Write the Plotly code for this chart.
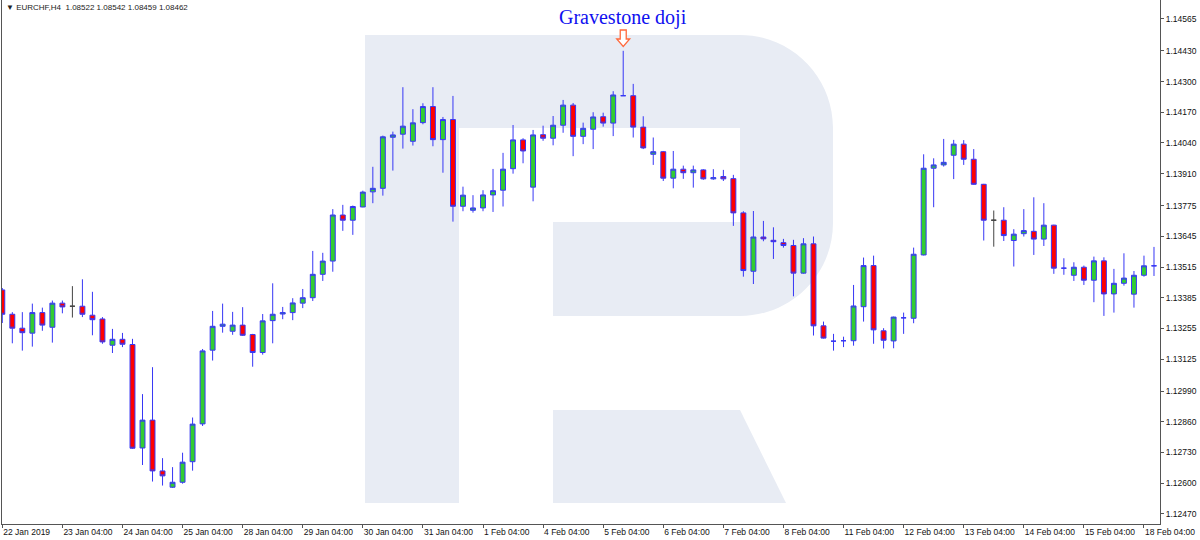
import plotly.graph_objects as go

# ---------------- data (EURCHF, H4) ----------------
bar_index = list(range(116))

open_ = [1.13418, 1.13315, 1.13256, 1.13235, 1.13322, 1.13260, 1.13362, 1.13349, 1.13349, 1.13311,
         1.13295, 1.13184, 1.13209, 1.13187, 1.12749, 1.12867, 1.12652, 1.12583, 1.12604, 1.12691,
         1.12851, 1.13163, 1.13264, 1.13243, 1.13269, 1.13229, 1.13153, 1.13288, 1.13316, 1.13322,
         1.13362, 1.13385, 1.13484, 1.13540, 1.13735, 1.13713, 1.13769, 1.13833, 1.13848, 1.14064,
         1.14077, 1.14047, 1.14126, 1.14194, 1.14054, 1.14139, 1.13772, 1.13755, 1.13765, 1.13820,
         1.13840, 1.13931, 1.14053, 1.13853, 1.14075, 1.14060, 1.14115, 1.14200, 1.14068, 1.14098,
         1.14151, 1.14124, 1.14240, 1.14240, 1.14107, 1.13992, 1.14003, 1.13891, 1.13929, 1.13914,
         1.13926, 1.13888, 1.13898, 1.13889, 1.13744, 1.13497, 1.13642, 1.13628, 1.13618, 1.13606,
         1.13489, 1.13613, 1.13266, 1.13201, 1.13203, 1.13203, 1.13347, 1.13521, 1.13245, 1.13202,
         1.13300, 1.13298, 1.13566, 1.13933, 1.13947, 1.13988, 1.14035, 1.13971, 1.13865, 1.13713,
         1.13713, 1.13627, 1.13656, 1.13666, 1.13633, 1.13692, 1.13510, 1.13480, 1.13514, 1.13459,
         1.13541, 1.13401, 1.13446, 1.13400, 1.13480, 1.13520]

high = [1.13426, 1.13324, 1.13324, 1.13360, 1.13343, 1.13373, 1.13373, 1.13434, 1.13463, 1.13410,
        1.13303, 1.13253, 1.13236, 1.13211, 1.12977, 1.13091, 1.12706, 1.12668, 1.12729, 1.12878,
        1.13168, 1.13329, 1.13360, 1.13325, 1.13345, 1.13232, 1.13316, 1.13446, 1.13346, 1.13383,
        1.13422, 1.13583, 1.13575, 1.13760, 1.13778, 1.13775, 1.13838, 1.13939, 1.14071, 1.14088,
        1.14276, 1.14183, 1.14208, 1.14276, 1.14150, 1.14239, 1.13855, 1.13819, 1.13840, 1.13930,
        1.13998, 1.14116, 1.14060, 1.14095, 1.14113, 1.14154, 1.14222, 1.14209, 1.14126, 1.14170,
        1.14168, 1.14259, 1.14430, 1.14290, 1.14153, 1.14063, 1.14006, 1.14006, 1.13944, 1.13944,
        1.13929, 1.13929, 1.13926, 1.13905, 1.13751, 1.13752, 1.13710, 1.13683, 1.13634, 1.13630,
        1.13637, 1.13644, 1.13284, 1.13232, 1.13220, 1.13439, 1.13555, 1.13563, 1.13256, 1.13305,
        1.13322, 1.13597, 1.13992, 1.13975, 1.14057, 1.14053, 1.14052, 1.14014, 1.13867, 1.13754,
        1.13768, 1.13675, 1.13760, 1.13810, 1.13785, 1.13694, 1.13552, 1.13535, 1.13521, 1.13559,
        1.13556, 1.13507, 1.13573, 1.13498, 1.13563, 1.13600]

low = [1.13278, 1.13192, 1.13161, 1.13178, 1.13245, 1.13195, 1.13319, 1.13301, 1.13303, 1.13226,
       1.13190, 1.13151, 1.13176, 1.12745, 1.12677, 1.12607, 1.12590, 1.12580, 1.12598, 1.12653,
       1.12842, 1.13119, 1.13237, 1.13228, 1.13223, 1.13093, 1.13144, 1.13192, 1.13294, 1.13290,
       1.13341, 1.13371, 1.13456, 1.13495, 1.13668, 1.13651, 1.13768, 1.13785, 1.13817, 1.13923,
       1.14016, 1.14029, 1.14119, 1.14026, 1.13914, 1.13707, 1.13751, 1.13745, 1.13751, 1.13748,
       1.13771, 1.13910, 1.13954, 1.13793, 1.14049, 1.14030, 1.14083, 1.13984, 1.14035, 1.14014,
       1.14109, 1.14069, 1.14240, 1.14063, 1.14014, 1.13947, 1.13879, 1.13848, 1.13888, 1.13851,
       1.13884, 1.13884, 1.13879, 1.13689, 1.13474, 1.13443, 1.13624, 1.13549, 1.13597, 1.13391,
       1.13487, 1.13225, 1.13212, 1.13161, 1.13176, 1.13182, 1.13284, 1.13190, 1.13170, 1.13171,
       1.13232, 1.13277, 1.13564, 1.13768, 1.13940, 1.13887, 1.13947, 1.13863, 1.13627, 1.13601,
       1.13625, 1.13517, 1.13644, 1.13566, 1.13604, 1.13486, 1.13482, 1.13456, 1.13439, 1.13366,
       1.13308, 1.13322, 1.13436, 1.13343, 1.13474, 1.13477]

close = [1.13315, 1.13256, 1.13237, 1.13322, 1.13269, 1.13362, 1.13346, 1.13349, 1.13315, 1.13292,
         1.13198, 1.13209, 1.13188, 1.12748, 1.12867, 1.12652, 1.12631, 1.12604, 1.12689, 1.12850,
         1.13160, 1.13264, 1.13273, 1.13269, 1.13226, 1.13153, 1.13287, 1.13315, 1.13322, 1.13363,
         1.13385, 1.13484, 1.13540, 1.13735, 1.13713, 1.13771, 1.13832, 1.13848, 1.14066, 1.14074,
         1.14111, 1.14125, 1.14194, 1.14054, 1.14139, 1.13772, 1.13819, 1.13765, 1.13820, 1.13838,
         1.13929, 1.14053, 1.14006, 1.14074, 1.14060, 1.14115, 1.14200, 1.14068, 1.14102, 1.14150,
         1.14124, 1.14243, 1.14240, 1.14107, 1.14019, 1.14003, 1.13891, 1.13929, 1.13914, 1.13926,
         1.13888, 1.13893, 1.13888, 1.13744, 1.13500, 1.13642, 1.13634, 1.13622, 1.13606, 1.13489,
         1.13613, 1.13266, 1.13214, 1.13201, 1.13203, 1.13350, 1.13521, 1.13249, 1.13205, 1.13303,
         1.13300, 1.13569, 1.13933, 1.13947, 1.13958, 1.14035, 1.13971, 1.13865, 1.13713, 1.13713,
         1.13648, 1.13654, 1.13669, 1.13633, 1.13692, 1.13510, 1.13510, 1.13514, 1.13459, 1.13541,
         1.13401, 1.13446, 1.13468, 1.13480, 1.13520, 1.13520]

gray_doji_bars = [7, 99]

price_ticks = [1.14565, 1.14430, 1.14300, 1.14170, 1.14040, 1.13910, 1.13775, 1.13645, 1.13515,
               1.13385, 1.13255, 1.13125, 1.12990, 1.12860, 1.12730, 1.12600, 1.12470]

time_tick_bars = [0, 6, 12, 18, 24, 30, 36, 42, 48, 54, 60, 66, 72, 78, 84, 90, 96, 102, 108, 114]
time_tick_labels = ["22 Jan 2019", "23 Jan 04:00", "24 Jan 04:00", "25 Jan 04:00", "28 Jan 04:00",
                    "29 Jan 04:00", "30 Jan 04:00", "31 Jan 04:00", "1 Feb 04:00", "4 Feb 04:00",
                    "5 Feb 04:00", "6 Feb 04:00", "7 Feb 04:00", "8 Feb 04:00", "11 Feb 04:00",
                    "12 Feb 04:00", "13 Feb 04:00", "14 Feb 04:00", "15 Feb 04:00", "18 Feb 04:00"]

header_text = "▼ EURCHF,H4  1.08522 1.08542 1.08459 1.08462"
pattern_label = "Gravestone doji"
pattern_bar = 62

# ---------------- styling ----------------
W, H = 1200, 540
M_L, M_R, M_T, M_B = 2, 40, 0, 16
PLOT_W = W - M_L - M_R
PLOT_H = H - M_T - M_B
WICK = "rgb(55,55,245)"
UP_FILL = "#32CD32"
DN_FILL = "#FF0000"
LOGO = "#E8ECF4"
AXIS = "#555555"
FONT = "Liberation Sans"


def px(xp, yp):
    """pixel position inside the figure -> paper coordinates"""
    return (xp - M_L) / PLOT_W, (H - M_B - yp) / PLOT_H


def path_from(points_cmds):
    out = []
    for cmd, pts in points_cmds:
        coords = []
        for (a, b) in pts:
            fx, fy = px(a, b)
            coords.append(f"{fx:.5f},{fy:.5f}")
        out.append(cmd + " " + " ".join(coords))
    return " ".join(out) + " Z"


main_idx = [i for i in bar_index if i not in gray_doji_bars]

fig = go.Figure()
fig.add_trace(go.Candlestick(
    x=[bar_index[i] for i in main_idx],
    open=[open_[i] for i in main_idx],
    high=[high[i] for i in main_idx],
    low=[low[i] for i in main_idx],
    close=[close[i] for i in main_idx],
    increasing=dict(fillcolor=UP_FILL, line=dict(color=WICK, width=1)),
    decreasing=dict(fillcolor=DN_FILL, line=dict(color=WICK, width=1)),
    whiskerwidth=0,
    hoverinfo="skip",
))
fig.add_trace(go.Candlestick(
    x=[bar_index[i] for i in gray_doji_bars],
    open=[open_[i] for i in gray_doji_bars],
    high=[high[i] for i in gray_doji_bars],
    low=[low[i] for i in gray_doji_bars],
    close=[close[i] for i in gray_doji_bars],
    increasing=dict(fillcolor="#444444", line=dict(color="#444444", width=1)),
    decreasing=dict(fillcolor="#444444", line=dict(color="#444444", width=1)),
    whiskerwidth=0,
    hoverinfo="skip",
))

# watermark "R" logo
k = 0.5523 * 93
r_body = path_from([
    ("M", [(365, 35)]),
    ("L", [(740, 35)]),
    ("C", [(740 + k, 35), (833, 128 - k), (833, 128)]),
    ("L", [(833, 223)]),
    ("C", [(833, 223 + k), (740 + k, 316), (740, 316)]),
    ("L", [(553, 316)]),
    ("L", [(553, 222)]),
    ("L", [(740, 222)]),
    ("L", [(740, 128)]),
    ("L", [(459, 128)]),
    ("L", [(459, 503)]),
    ("L", [(365, 503)]),
])
r_leg = path_from([
    ("M", [(553, 410)]),
    ("L", [(740, 410)]),
    ("L", [(786, 503)]),
    ("L", [(553, 503)]),
])
shapes = [
    dict(type="path", xref="paper", yref="paper", path=r_body, fillcolor=LOGO,
         line=dict(width=0), layer="below"),
    dict(type="path", xref="paper", yref="paper", path=r_leg, fillcolor=LOGO,
         line=dict(width=0), layer="below"),
]

# hollow down arrow above the doji
ax0 = 3 + 10.015 * pattern_bar - 0.7
arrow = path_from([
    ("M", [(ax0 - 3, 30)]),
    ("L", [(ax0 + 3, 30)]),
    ("L", [(ax0 + 3, 39)]),
    ("L", [(ax0 + 6.5, 39)]),
    ("L", [(ax0, 46.5)]),
    ("L", [(ax0 - 6.5, 39)]),
    ("L", [(ax0 - 3, 39)]),
])
shapes.append(dict(type="path", xref="paper", yref="paper", path=arrow, fillcolor="white",
                   line=dict(color="#FF6A3D", width=1.3), layer="above"))

annotations = [
    dict(text=header_text, xref="paper", yref="paper", x=px(4, 0)[0], y=px(0, 1)[1],
         xanchor="left", yanchor="top", showarrow=False,
         font=dict(family=FONT, size=8, color="#222222")),
    dict(text=pattern_label, xref="x", yref="paper", x=pattern_bar, y=px(0, 17)[1],
         xanchor="center", yanchor="middle", showarrow=False,
         font=dict(family="Liberation Serif", size=20, color="#1010F0")),
]

y_lo = 1.14645 - 524 / 23628
fig.update_layout(
    width=W, height=H,
    margin=dict(l=M_L, r=M_R, t=M_T, b=M_B, pad=0),
    plot_bgcolor="white", paper_bgcolor="white",
    showlegend=False,
    shapes=shapes,
    annotations=annotations,
    xaxis=dict(
        range=[-0.03, 115.6],
        tickvals=time_tick_bars, ticktext=time_tick_labels,
        ticklabelposition="outside right",
        tickangle=0,
        ticks="outside", ticklen=3, tickcolor=AXIS,
        showline=True, linecolor=AXIS, linewidth=1,
        showgrid=False, zeroline=False,
        rangeslider=dict(visible=False),
        tickfont=dict(family=FONT, size=8.5, color="#111111"),
        fixedrange=True,
    ),
    yaxis=dict(
        side="right",
        range=[y_lo, 1.14645],
        tickvals=price_ticks, ticktext=[f"{v:.5f}" for v in price_ticks],
        ticks="outside", ticklen=3, tickcolor=AXIS,
        showline=True, mirror=True, linecolor=AXIS, linewidth=1,
        showgrid=False, zeroline=False,
        tickfont=dict(family=FONT, size=8.5, color="#111111"),
        fixedrange=True,
    ),
)

fig.write_html(
    "out.html",
    config={"displayModeBar": False},
    post_script="document.body.style.margin='0px';document.body.style.overflow='hidden';",
)
